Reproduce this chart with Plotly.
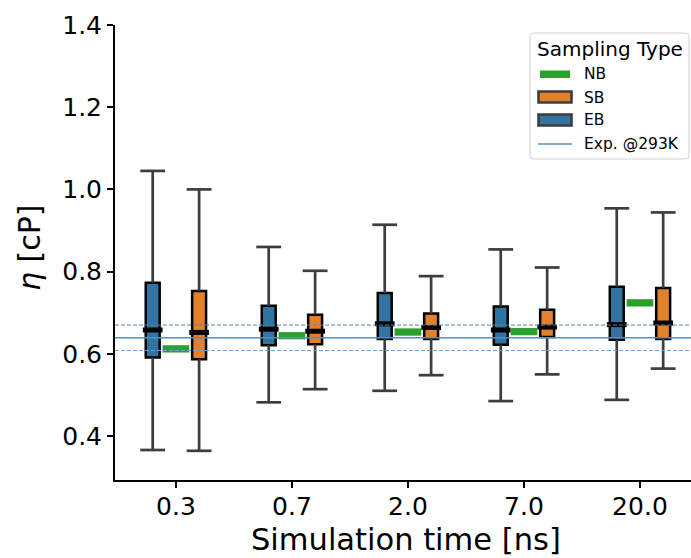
import plotly.graph_objects as go

# ---------------- data ----------------
categories = ["0.3", "0.7", "2.0", "7.0", "20.0"]

# EB (blue) box stats: lower whisker, q1, median, q3, upper whisker
eb_low = [0.366, 0.482, 0.510, 0.485, 0.488]
eb_q1 = [0.591, 0.621, 0.636, 0.622, 0.634]
eb_med = [0.658, 0.660, 0.673, 0.658, 0.671]
eb_q3 = [0.773, 0.717, 0.748, 0.715, 0.763]
eb_high = [1.045, 0.860, 0.914, 0.854, 0.954]

# SB (orange) box stats
sb_low = [0.364, 0.514, 0.548, 0.550, 0.564]
sb_q1 = [0.587, 0.623, 0.636, 0.641, 0.636]
sb_med = [0.652, 0.655, 0.664, 0.665, 0.675]
sb_q3 = [0.753, 0.695, 0.698, 0.707, 0.760]
sb_high = [1.000, 0.802, 0.789, 0.810, 0.944]

# NB (green) single values
nb_val = [0.612, 0.644, 0.653, 0.654, 0.724]

# Experimental value @293K and its bounds
exp_val = 0.639
exp_upper = 0.670
exp_lower = 0.608

y_ticks = [0.4, 0.6, 0.8, 1.0, 1.2, 1.4]

# ---------------- styling / geometry ----------------
W, H = 691, 558
L, R, T, B = 115, 691, 25, 480  # plot area in px
C_BLUE = "#3274A1"
C_ORANGE = "#E1812C"
C_GREEN = "#2ca02c"
C_WHISK = "#3d3d3d"
C_EXP = "#4c92c3"
FONT = "DejaVu Sans"

OFF = 0.2       # offset of EB / SB boxes from group centre
BOXW = 0.12     # box width
CAPW = 0.107    # half width of caps
MEDW = 0.085    # half width of median bars
NBW = 0.115     # half width of NB bars


def px_x(p):
    return (p - L) / (R - L)


def px_y(p):
    return (B - p) / (B - T)


pos = list(range(len(categories)))
eb_x = [p - OFF for p in pos]
sb_x = [p + OFF for p in pos]

fig = go.Figure()


def whisker_trace(xs, low, q1, q3, high, name):
    X, Y = [], []
    for x, lo, a, b, hi in zip(xs, low, q1, q3, high):
        X += [x, x, None, x, x, None, x - CAPW, x + CAPW, None, x - CAPW, x + CAPW, None]
        Y += [b, hi, None, a, lo, None, hi, hi, None, lo, lo, None]
    return go.Scatter(x=X, y=Y, mode="lines", line=dict(color=C_WHISK, width=2.7),
                      showlegend=False, hoverinfo="skip", name=name + " whiskers")


fig.add_trace(whisker_trace(eb_x, eb_low, eb_q1, eb_q3, eb_high, "EB"))
fig.add_trace(whisker_trace(sb_x, sb_low, sb_q1, sb_q3, sb_high, "SB"))

for name, xs, q1, med, q3, col in [("EB", eb_x, eb_q1, eb_med, eb_q3, C_BLUE),
                                    ("SB", sb_x, sb_q1, sb_med, sb_q3, C_ORANGE)]:
    fig.add_trace(go.Box(x=xs, q1=q1, median=med, q3=q3, lowerfence=q1, upperfence=q3,
                         width=BOXW, fillcolor=col, line=dict(color="black", width=2.5),
                         name=name, showlegend=False, boxpoints=False))

# medians
MX, MY = [], []
for xs, med in [(eb_x, eb_med), (sb_x, sb_med)]:
    for x, m in zip(xs, med):
        MX += [x - MEDW, x + MEDW, None]
        MY += [m, m, None]
fig.add_trace(go.Scatter(x=MX, y=MY, mode="lines", line=dict(color="black", width=5),
                         showlegend=False, hoverinfo="skip", name="medians"))

# NB bars
NX, NY = [], []
for p, v in zip(pos, nb_val):
    NX += [p - NBW, p + NBW, None]
    NY += [v, v, None]
fig.add_trace(go.Scatter(x=NX, y=NY, mode="lines", line=dict(color=C_GREEN, width=7.3),
                         showlegend=False, name="NB"))

# experimental lines
fig.add_hline(y=exp_val, line=dict(color=C_EXP, width=1.5))
fig.add_hline(y=exp_upper, line=dict(color="#5a84aa", width=1, dash="4px,2px"))
fig.add_hline(y=exp_lower, line=dict(color="#6aa6d8", width=1.1, dash="4px,2px"))

# ---------------- manual legend ----------------
shapes = []
x0, x1, y0, y1, r = 530, 689, 33, 159, 4
path = (f"M{px_x(x0 + r)},{px_y(y0)} L{px_x(x1 - r)},{px_y(y0)} "
        f"Q{px_x(x1)},{px_y(y0)} {px_x(x1)},{px_y(y0 + r)} "
        f"L{px_x(x1)},{px_y(y1 - r)} Q{px_x(x1)},{px_y(y1)} {px_x(x1 - r)},{px_y(y1)} "
        f"L{px_x(x0 + r)},{px_y(y1)} Q{px_x(x0)},{px_y(y1)} {px_x(x0)},{px_y(y1 - r)} "
        f"L{px_x(x0)},{px_y(y0 + r)} Q{px_x(x0)},{px_y(y0)} {px_x(x0 + r)},{px_y(y0)} Z")
shapes.append(dict(type="path", xref="paper", yref="paper", path=path,
                   fillcolor="rgba(255,255,255,0.85)", line=dict(color="#d6d6d6", width=1.2),
                   layer="above"))
# NB patch
shapes.append(dict(type="rect", xref="paper", yref="paper", x0=px_x(540), x1=px_x(570),
                   y0=px_y(78), y1=px_y(70.5), fillcolor=C_GREEN, line=dict(width=0), layer="above"))
# SB / EB patches
for cy, col in [(97, C_ORANGE), (120, C_BLUE)]:
    shapes.append(dict(type="rect", xref="paper", yref="paper", x0=px_x(538.5), x1=px_x(571.5),
                       y0=px_y(cy + 5.5), y1=px_y(cy - 5.5), fillcolor=col,
                       line=dict(color=C_WHISK, width=2.6), layer="above"))
# exp line
shapes.append(dict(type="line", xref="paper", yref="paper", x0=px_x(538), x1=px_x(572),
                   y0=px_y(144), y1=px_y(144), line=dict(color=C_EXP, width=1.5), layer="above"))

ann = []
ann.append(dict(text="Sampling Type", xref="paper", yref="paper", x=px_x(535), y=px_y(49),
                xanchor="left", yanchor="middle", showarrow=False,
                font=dict(family=FONT, size=20, color="black")))
for label, cy in [("NB", 74), ("SB", 97.5), ("EB", 120), ("Exp. @293K", 144)]:
    ann.append(dict(text=label, xref="paper", yref="paper", x=px_x(582), y=px_y(cy),
                    xanchor="left", yanchor="middle", showarrow=False,
                    font=dict(family=FONT, size=15.5, color="black")))

# axis titles
ann.append(dict(text="Simulation time [ns]", xref="paper", yref="paper", x=px_x(406), y=px_y(558),
                xanchor="center", yanchor="bottom", showarrow=False, borderpad=0,
                font=dict(family=FONT, size=30.5, color="black")))
ann.append(dict(text="<i>η</i> [cP]", xref="paper", yref="paper", x=px_x(29), y=px_y(248),
                xanchor="center", yanchor="middle", textangle=-90, showarrow=False,
                font=dict(family=FONT, size=30, color="black")))

fig.update_layout(
    width=W, height=H,
    margin=dict(l=L, r=W - R, t=T, b=H - B, pad=0),
    paper_bgcolor="white", plot_bgcolor="white",
    showlegend=False, boxmode="overlay",
    shapes=list(fig.layout.shapes) + shapes,
    annotations=ann,
    font=dict(family=FONT, color="black"),
)
fig.update_xaxes(range=[-0.525, 4.44], tickmode="array", tickvals=pos, ticktext=categories,
                 showgrid=False, zeroline=False, showline=True, linecolor="black", linewidth=2,
                 ticks="outside", ticklen=6, tickwidth=1.5, tickcolor="black",
                 ticklabelstandoff=-3,
                 tickfont=dict(family=FONT, size=25, color="black"))
fig.update_yaxes(range=[0.293, 1.4], tickmode="array", tickvals=y_ticks,
                 ticktext=[f"{v:.1f}" for v in y_ticks],
                 showgrid=False, zeroline=False, showline=True, linecolor="black", linewidth=2,
                 ticks="outside", ticklen=6, tickwidth=1.5, tickcolor="black",
                 tickfont=dict(family=FONT, size=25, color="black"))

fig.write_html("out.html", config={"displayModeBar": False},
               post_script="document.body.style.margin='0';")
